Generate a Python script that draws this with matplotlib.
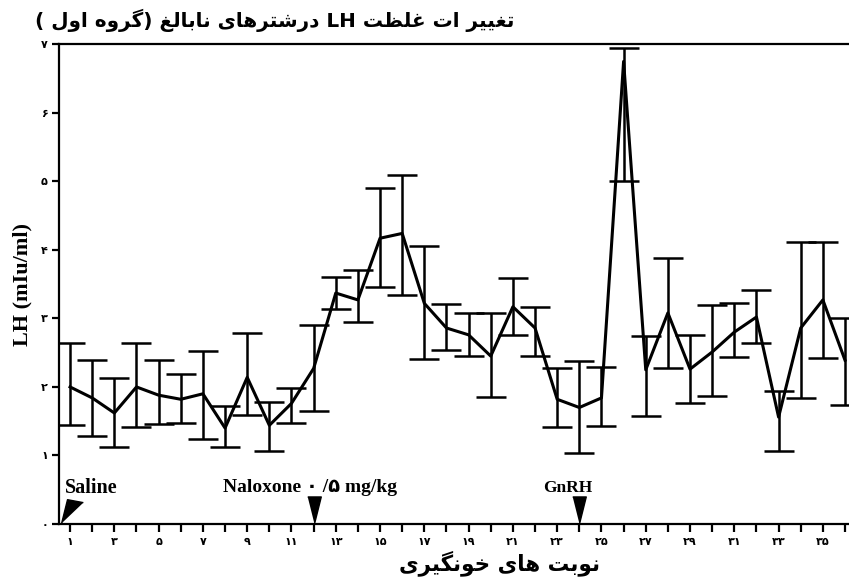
import matplotlib
matplotlib.use("Agg")
import matplotlib.pyplot as plt
import numpy as np

# --- data ---
samples = list(range(1, 37))
lh_mean = [2.00, 1.84, 1.62, 2.00, 1.88, 1.82, 1.90, 1.40, 2.14, 1.44, 1.76, 2.27,
           3.37, 3.27, 4.17, 4.24, 3.22, 2.86, 2.76, 2.45, 3.17, 2.86, 1.82, 1.70,
           1.84, 6.75, 2.25, 3.08, 2.26, 2.51, 2.80, 3.02, 1.56, 2.86, 3.27, 2.39]
lh_upper = [2.64, 2.39, 2.13, 2.64, 2.39, 2.19, 2.52, 1.72, 2.79, 1.78, 1.98, 2.90,
            3.60, 3.70, 4.91, 5.09, 4.05, 3.21, 3.08, 3.08, 3.59, 3.16, 2.27, 2.38,
            2.29, 6.94, 2.74, 3.88, 2.76, 3.19, 3.22, 3.41, 1.94, 4.11, 4.11, 3.00]
lh_lower = [1.44, 1.28, 1.12, 1.41, 1.46, 1.47, 1.24, 1.12, 1.59, 1.06, 1.47, 1.65,
            3.14, 2.95, 3.46, 3.34, 2.41, 2.54, 2.45, 1.85, 2.76, 2.45, 1.41, 1.04,
            1.43, 5.00, 1.57, 2.27, 1.76, 1.87, 2.44, 2.64, 1.06, 1.84, 2.42, 1.74]

events = [1, 12, 24]
event_labels = ["Saline", "Naloxone \u06f0 /\u06f5 mg/kg", "GnRH"]

title_fa = "تغییر ات غلظت"
title_fa2 = "درشترهای نابالغ (گروه اول )"
xlabel_fa = "نوبت های خونگیری"
ylabel = "LH (mIu/ml)"

PERSIAN_DIGITS = "۰۱۲۳۴۵۶۷۸۹"

# isolated, final, initial, medial presentation forms
FORMS = {
    "ا": ("\uFE8D", "\uFE8E", None, None),
    "ب": ("\uFE8F", "\uFE90", "\uFE91", "\uFE92"),
    "ت": ("\uFE95", "\uFE96", "\uFE97", "\uFE98"),
    "خ": ("\uFEA5", "\uFEA6", "\uFEA7", "\uFEA8"),
    "د": ("\uFEA9", "\uFEAA", None, None),
    "ر": ("\uFEAD", "\uFEAE", None, None),
    "ش": ("\uFEB5", "\uFEB6", "\uFEB7", "\uFEB8"),
    "ظ": ("\uFEC5", "\uFEC6", "\uFEC7", "\uFEC8"),
    "غ": ("\uFECD", "\uFECE", "\uFECF", "\uFED0"),
    "ل": ("\uFEDD", "\uFEDE", "\uFEDF", "\uFEE0"),
    "ن": ("\uFEE5", "\uFEE6", "\uFEE7", "\uFEE8"),
    "ه": ("\uFEE9", "\uFEEA", "\uFEEB", "\uFEEC"),
    "و": ("\uFEED", "\uFEEE", None, None),
    "ی": ("\uFBFC", "\uFBFD", "\uFBFE", "\uFBFF"),
    "گ": ("\uFB92", "\uFB93", "\uFB94", "\uFB95"),
}


def rtl(s):
    """Shape Persian letters by hand and reverse for display (no bidi lib here)."""
    out = []
    for i, c in enumerate(s):
        if c not in FORMS:
            out.append({"(": ")", ")": "("}.get(c, c))
            continue
        prev = s[i - 1] if i > 0 else ""
        nxt = s[i + 1] if i + 1 < len(s) else ""
        link_prev = prev in FORMS and FORMS[prev][2] is not None
        link_next = nxt in FORMS and FORMS[c][2] is not None
        if link_prev and link_next:
            out.append(FORMS[c][3])
        elif link_prev:
            out.append(FORMS[c][1])
        elif link_next:
            out.append(FORMS[c][2])
        else:
            out.append(FORMS[c][0])
    return "".join(out[::-1])


def fa_num(n):
    return "".join(PERSIAN_DIGITS[int(d)] for d in str(n))


fig = plt.figure(figsize=(8.49, 5.78), dpi=100)
ax = fig.add_axes([0.0695, 0.0934, 0.9305, 0.830])

mean = np.array(lh_mean)
yerr = [mean - np.array(lh_lower), np.array(lh_upper) - mean]
ax.errorbar(samples, mean, yerr=yerr, color="black", lw=2.2, elinewidth=1.8,
            capsize=11, capthick=1.8)

ax.set_xlim(0.5, 36.18)
ax.set_ylim(0, 7)

for s in ["top", "left", "bottom"]:
    ax.spines[s].set_linewidth(1.6)
ax.spines["right"].set_visible(False)

ax.set_xticks(samples)
ax.set_xticklabels([fa_num(n) if n % 2 == 1 else "" for n in samples],
                   family="DejaVu Sans", fontsize=8, fontweight="bold")
ax.set_yticks(range(0, 8))
ax.set_yticklabels([fa_num(n) for n in range(0, 8)],
                   family="DejaVu Sans", fontsize=8, fontweight="bold")
ax.tick_params(axis="x", direction="out", length=6, width=1.6, pad=3)
ax.tick_params(axis="y", direction="out", length=5, width=1.6, pad=3)

# event triangles
down_tri = [(-0.5, 1), (0.5, 1), (0, -1)]
slant_tri = [(-0.92, -1), (-0.42, 1), (0.92, 0.75)]
ax.plot(events[0] + 0.09, 0.19, marker=slant_tri, markersize=17, color="black",
        ls="none", clip_on=False)
ax.plot(events[1:], [0.2] * len(events[1:]), marker=down_tri, markersize=19.5,
        color="black", ls="none", clip_on=False)

label_shift = [0.97, -0.16, -0.53]
label_size = [14.5, 14, 12.5]
for ev, lab, dx, fs in zip(events, event_labels, label_shift, label_size):
    ax.text(ev + dx, 0.53, lab, ha="center", va="center", fontsize=fs,
            fontweight="bold", family=["Liberation Serif", "DejaVu Sans"])

ax.set_ylabel(ylabel, family="Liberation Serif", fontweight="bold", fontsize=16,
              labelpad=6)

fig.text(500 / 849, 1 - 563 / 578, rtl(xlabel_fa), ha="center", va="center",
         fontsize=15.5, fontweight="bold", family="DejaVu Sans")
fig.text(35 / 849, 1 - 20 / 578, rtl(title_fa2) + " LH " + rtl(title_fa),
         ha="left", va="center", fontsize=14.4, fontweight="bold", family="DejaVu Sans")

fig.savefig("out.png", dpi=100)
